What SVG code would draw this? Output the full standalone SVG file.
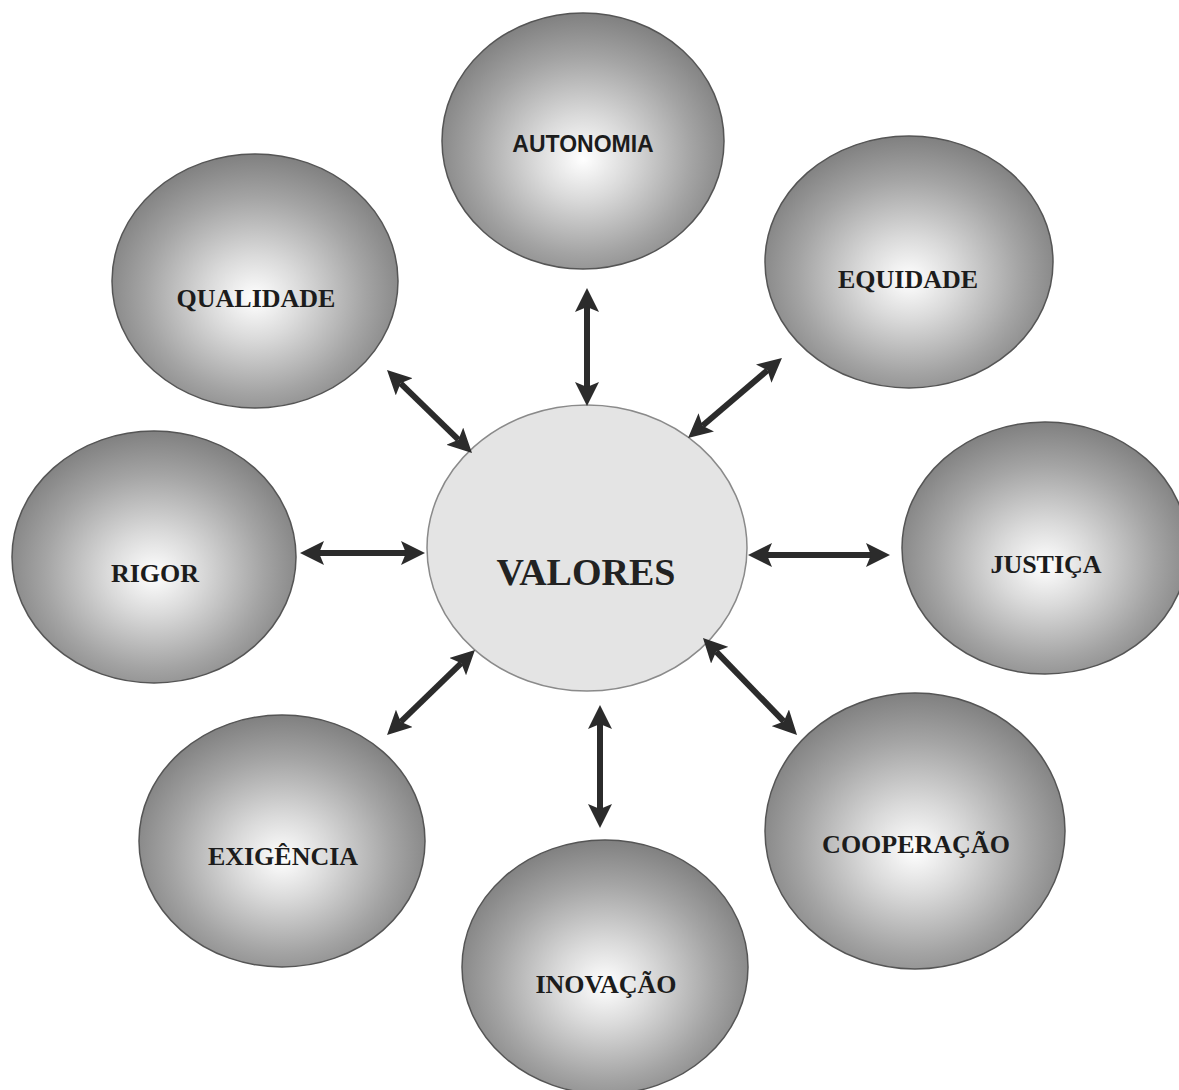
<svg xmlns="http://www.w3.org/2000/svg" width="1179" height="1090" viewBox="0 0 1179 1090">
  <defs>
    <radialGradient id="ball" cx="50%" cy="55%" r="55%" fx="50%" fy="57%">
      <stop offset="0" stop-color="#ffffff"/>
      <stop offset="0.3" stop-color="#dadada"/>
      <stop offset="0.7" stop-color="#a4a4a4"/>
      <stop offset="1" stop-color="#808080"/>
    </radialGradient>
    <marker id="ah" viewBox="0 0 24 24" refX="5" refY="12" markerWidth="24" markerHeight="24" markerUnits="userSpaceOnUse" orient="auto-start-reverse">
      <path d="M0,0 L24,12 L0,24 L5,12 z" fill="#2b2b2b"/>
    </marker>
  </defs>
  <style>
    .ball { fill: url(#ball); stroke: #555555; stroke-width: 1.5; }
    .center { fill: #e4e4e4; stroke: #8a8a8a; stroke-width: 1.5; }
    .lbl { font-family: "Liberation Serif", "Times New Roman", serif; font-weight: bold; font-size: 26px; fill: #1c1c1c; text-anchor: middle; }
    .lbls { font-family: "Liberation Sans", Arial, sans-serif; font-weight: bold; font-size: 23px; fill: #1c1c1c; text-anchor: middle; }
    .big { font-family: "Liberation Serif", "Times New Roman", serif; font-weight: bold; font-size: 38px; fill: #222222; text-anchor: middle; }
    .conn line { stroke: #2b2b2b; stroke-width: 6; marker-start: url(#ah); marker-end: url(#ah); }
  </style>
  <rect width="1179" height="1090" fill="#ffffff"/>

  <g id="autonomia">
    <ellipse class="ball" cx="583" cy="141" rx="141" ry="128"/>
    <text class="lbls" x="583" y="152">AUTONOMIA</text>
  </g>
  <g id="equidade">
    <ellipse class="ball" cx="909" cy="262" rx="144" ry="126"/>
    <text class="lbl" x="908" y="288">EQUIDADE</text>
  </g>
  <g id="qualidade">
    <ellipse class="ball" cx="255" cy="281" rx="143" ry="127"/>
    <text class="lbl" x="256" y="307">QUALIDADE</text>
  </g>
  <g id="rigor">
    <ellipse class="ball" cx="154" cy="557" rx="142" ry="126"/>
    <text class="lbl" x="155" y="582">RIGOR</text>
  </g>
  <g id="justica">
    <ellipse class="ball" cx="1045" cy="548" rx="143" ry="126"/>
    <text class="lbl" x="1046" y="573">JUSTIÇA</text>
  </g>
  <g id="exigencia">
    <ellipse class="ball" cx="282" cy="841" rx="143" ry="126"/>
    <text class="lbl" x="283" y="865">EXIGÊNCIA</text>
  </g>
  <g id="cooperacao">
    <ellipse class="ball" cx="915" cy="831" rx="150" ry="138"/>
    <text class="lbl" x="916" y="853">COOPERAÇÃO</text>
  </g>
  <g id="inovacao">
    <ellipse class="ball" cx="605" cy="967" rx="143" ry="127"/>
    <text class="lbl" x="606" y="993">INOVAÇÃO</text>
  </g>
  <g id="valores">
    <ellipse class="center" cx="587" cy="548" rx="160" ry="143"/>
    <text class="big" x="586" y="585">VALORES</text>
  </g>

  <g id="connectors" class="conn">
    <line x1="587" y1="307" x2="587" y2="387"/>
    <line x1="400.6" y1="383.3" x2="458.4" y2="439.7"/>
    <line x1="319" y1="553" x2="406" y2="553"/>
    <line x1="767.5" y1="370.3" x2="702.5" y2="425.7"/>
    <line x1="767" y1="555" x2="871" y2="555"/>
    <line x1="461.3" y1="663.2" x2="400.7" y2="721.8"/>
    <line x1="716.2" y1="651.6" x2="783.8" y2="721.4"/>
    <line x1="600" y1="724" x2="600" y2="809"/>
  </g>
</svg>
